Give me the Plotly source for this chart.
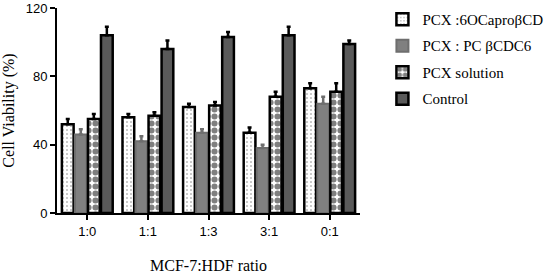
import plotly.graph_objects as go

ratios = ['1:0', '1:1', '1:3', '3:1', '0:1']
series_names = ['PCX :6OCaproβCD', 'PCX : PC βCDC6', 'PCX solution', 'Control']

ocapro = [52, 56, 62, 47, 73]
ocapro_err = [3, 2, 2, 3, 3]
pcbcd = [46, 42, 47, 38, 64]
pcbcd_err = [3, 3, 2, 2, 4]
solution = [55, 57, 63, 68, 71]
solution_err = [3, 2, 2, 3, 5]
control = [104, 96, 103, 104, 99]
control_err = [5, 5, 3, 5, 2]

serif = 'Liberation Serif'
sans = 'Liberation Sans'

styles = [
    dict(color='white', line=dict(color='black', width=2.5),
         pattern=dict(shape='.', fgcolor='black', bgcolor='white', size=4, solidity=0.12)),
    dict(color='#808080', line=dict(color='#6e6e6e', width=2)),
    dict(color='white', line=dict(color='black', width=2.5),
         pattern=dict(shape='.', fgcolor='black', bgcolor='white', size=7, solidity=0.6)),
    dict(color='#5a5a5a', line=dict(color='black', width=2.5)),
]
err_colors = ['black', '#6e6e6e', 'black', 'black']

fig = go.Figure()
for i, (vals, errs) in enumerate([(ocapro, ocapro_err), (pcbcd, pcbcd_err),
                                  (solution, solution_err), (control, control_err)]):
    fig.add_trace(go.Bar(
        x=ratios, y=vals, name=series_names[i], legendgroup=str(i),
        marker=styles[i],
        error_y=dict(type='data', array=errs, symmetric=False, arrayminus=[0] * 5,
                     color=err_colors[i], thickness=2.5, width=2),
    ))

fig.update_layout(
    width=550, height=277,
    margin=dict(l=57, r=190, t=8, b=64, autoexpand=False),
    plot_bgcolor='white', paper_bgcolor='white',
    barmode='group', bargap=0.14, bargroupgap=0.1,
    showlegend=True,
    legend=dict(x=1.074, y=1.025, xanchor='left', yanchor='top',
                font=dict(family=serif, size=15, color='black'),
                traceorder='grouped', tracegroupgap=4,
                itemwidth=30),
    xaxis=dict(
        type='category', range=[-0.5, 4.5],
        showline=True, linecolor='black', linewidth=2,
        ticks='outside', ticklen=5, tickwidth=2, tickcolor='black',
        tickfont=dict(family=sans, size=13, color='black'),
        title=dict(text='MCF-7:HDF ratio', font=dict(family=serif, size=16, color='black'), standoff=22),
        showgrid=False,
    ),
    yaxis=dict(
        range=[0, 120], tickvals=[0, 40, 80, 120],
        showline=True, linecolor='black', linewidth=2,
        ticks='outside', ticklen=5, tickwidth=2, tickcolor='black',
        tickfont=dict(family=sans, size=13, color='black'),
        title=dict(text='Cell Viability (%)', font=dict(family=serif, size=16, color='black'), standoff=8),
        showgrid=False, zeroline=False,
    ),
)

config = {'displayModeBar': False}

# the page body has a default 8px margin; remove it so the figure sits at the window corner
fig.write_html('out.html', config=config, post_script="document.body.style.margin='0';")
